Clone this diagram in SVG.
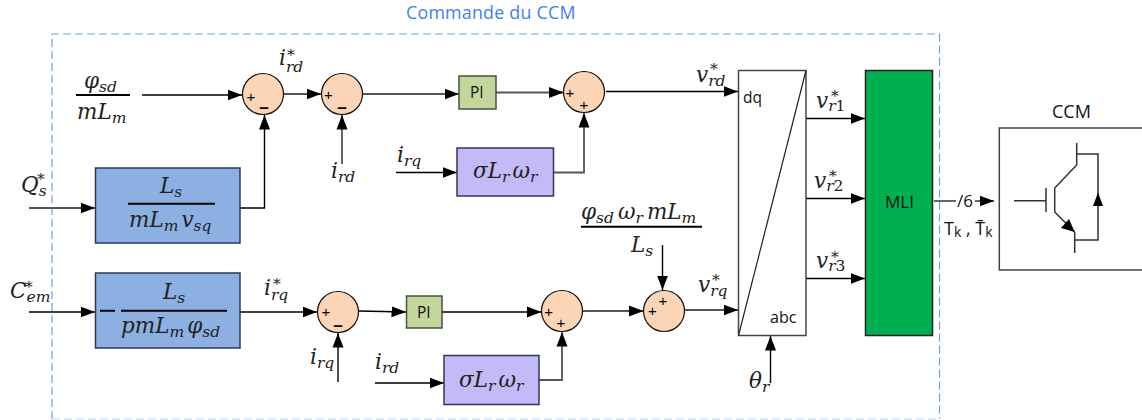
<svg xmlns="http://www.w3.org/2000/svg" width="1142" height="420" viewBox="0 0 1142 420">
<style>
text{fill:#000}
.m{font-family:"DejaVu Serif",serif;font-style:italic;font-size:21.5px;fill:#222}
.m tspan.s{font-size:15.5px}
.m tspan.u{font-style:normal}
.n{font-family:"Open Sans","Noto Sans",sans-serif;font-size:15.5px;fill:#111}
.c{fill:none;stroke:#000;stroke-width:1.4;marker-end:url(#a)}
.g{fill:none;stroke:#555;stroke-width:1.8;marker-end:url(#a)}
.p{fill:none;stroke:#333;stroke-width:1.5}
.bar{stroke:#000;stroke-width:2;fill:none}
.sum{fill:#fbd5b5;stroke:#111;stroke-width:1.2}
.sg{font-family:"Liberation Sans",sans-serif;font-size:15px;text-anchor:middle}
.mi{font-family:"Liberation Sans",sans-serif;font-size:17px;font-weight:bold;text-anchor:middle}
.blue{fill:#8db0e3;stroke:#2a3a55;stroke-width:1.5}
.vio{fill:#c5baf8;stroke:#2a3a55;stroke-width:1.5}
.pi{fill:#c3d69b;stroke:#4a4f44;stroke-width:1.5}
.wh{fill:#fff;stroke:#444;stroke-width:1.5}
</style>
<defs>
<marker id="a" markerUnits="userSpaceOnUse" markerWidth="15" markerHeight="12" refX="14.5" refY="6" orient="auto"><path d="M0 .5L14.5 6L0 11.5Z" fill="#000"/></marker>
</defs>
<rect width="1142" height="420" fill="#fff"/>
<g id="frame">
<path d="M52 419V34H939.5V419" fill="none" stroke="#6fa3e6" stroke-width="1.2" stroke-dasharray="8 4"/>
<path d="M52 419H939.5" fill="none" stroke="#bcd0ec" stroke-width="1.2" stroke-dasharray="8 4"/>
<text x="406" y="19" font-family="'Open Sans','Noto Sans',sans-serif" font-size="17.800" letter-spacing=".25" style="fill:#3f7ff0">Commande du CCM</text>
</g>
<g id="connectors">
<path class="c" d="M142 95H242"/>
<path class="g" d="M284 94H321"/>
<path class="g" d="M29 208H95"/>
<path class="c" d="M240 208H264.500V115"/>
<path class="g" d="M342 164V115"/>
<path class="g" d="M363 94H459"/>
<path class="g" d="M496 92.500H563.500"/>
<path class="c" d="M606 91.500H738"/>
<path class="c" d="M396 172.500H457"/>
<path class="g" d="M553.500 172.500H584V113"/>
<path class="c" d="M29 312H95"/>
<path class="c" d="M240 312H317"/>
<path class="c" d="M359 311L406 312"/>
<path class="c" d="M442 312H541.500"/>
<path class="c" d="M338 382V333"/>
<path class="c" d="M375 383H444"/>
<path class="g" d="M539 380H562V332"/>
<path class="g" d="M583 311H643.500"/>
<path class="c" d="M662.500 245V290"/>
<path class="g" d="M685 310H738"/>
<path class="c" d="M770.500 383V336"/>
<path class="c" d="M806 118.500H865"/>
<path class="c" d="M806 198.500H865"/>
<path class="c" d="M806 278.500H865"/>
<path class="p" d="M934 201H956"/>
<path class="g" d="M975 201H994"/>
</g>
<g id="labels">
<g id="frac-top"><text class="m" x="84" y="88">φ<tspan class="s" dy="4">sd</tspan></text>
<path class="bar" d="M76 95H130"/>
<text class="m" x="77" y="119">mL<tspan class="s" dy="4">m</tspan></text></g>
<text class="m" x="279" y="65">i<tspan class="s" dy="7">rd</tspan></text><text class="m" x="287" y="60"><tspan class="s">*</tspan></text>
<text class="m" x="21" y="192">Q<tspan class="s" dy="4">s</tspan></text><text class="m" x="37" y="184"><tspan class="s">*</tspan></text>
<text class="m" x="331" y="178">i<tspan class="s" dy="4">rd</tspan></text>
<text class="m" x="397" y="162">i<tspan class="s" dy="4">rq</tspan></text>
<text class="m" x="10" y="298">C<tspan class="s" dy="4">em</tspan></text><text class="m" x="25" y="292"><tspan class="s">*</tspan></text>
<text class="m" x="264" y="295">i<tspan class="s" dy="5">rq</tspan></text><text class="m" x="273" y="289"><tspan class="s">*</tspan></text>
<text class="m" x="310" y="364">i<tspan class="s" dy="4">rq</tspan></text>
<text class="m" x="375" y="369">i<tspan class="s" dy="4">rd</tspan></text>
<text class="m" x="696" y="82">v<tspan class="s" dy="4">rd</tspan></text><text class="m" x="710" y="74"><tspan class="s">*</tspan></text>
<text class="m" x="698" y="292">v<tspan class="s" dy="4">rq</tspan></text><text class="m" x="712" y="285"><tspan class="s">*</tspan></text>
<text class="m" x="749" y="388">θ<tspan class="s" dy="4">r</tspan></text>
<text class="m" x="816" y="108">v<tspan class="s" dy="3">r<tspan class="u">1</tspan></tspan></text><text class="m" x="831" y="101"><tspan class="s">*</tspan></text>
<text class="m" x="814" y="188">v<tspan class="s" dy="3">r<tspan class="u">2</tspan></tspan></text><text class="m" x="829" y="181"><tspan class="s">*</tspan></text>
<text class="m" x="816" y="268">v<tspan class="s" dy="3">r<tspan class="u">3</tspan></tspan></text><text class="m" x="831" y="262"><tspan class="s">*</tspan></text>
<text class="m" x="581" y="219">φ<tspan class="s" dy="4">sd</tspan><tspan dy="-4" dx="4">ω</tspan><tspan class="s" dy="4">r</tspan><tspan dy="-4" dx="4">mL</tspan><tspan class="s" dy="4">m</tspan></text>
<path class="bar" d="M581 226.700H702"/>
<text class="m" x="631" y="252">L<tspan class="s" dy="4">s</tspan></text>
<text class="n" x="957" y="207" style="font-size:17px">/6</text>
<text class="n" x="944" y="235" style="font-size:18px">T<tspan dy="2" style="font-size:14px">k</tspan><tspan dy="-2"> , T̄</tspan><tspan dy="2" style="font-size:14px">k</tspan></text>
</g>
<g id="s1"><circle class="sum" cx="263" cy="94" r="20.500"/><text class="sg" x="251" y="102">+</text><text class="mi" x="264" y="112.500">–</text></g>
<g id="s2"><circle class="sum" cx="342" cy="94" r="20.500"/><text class="sg" x="328.500" y="100">+</text><text class="mi" x="342" y="112.500">–</text></g>
<g id="s3"><circle class="sum" cx="584" cy="92" r="20.500"/><text class="sg" x="570" y="97.500">+</text><text class="sg" x="584" y="109.500">+</text></g>
<g id="s4"><circle class="sum" cx="338" cy="312" r="20.500"/><text class="sg" x="326" y="317">+</text><text class="mi" x="338" y="331">–</text></g>
<g id="s5"><circle class="sum" cx="562" cy="311" r="20.500"/><text class="sg" x="548.700" y="316.500">+</text><text class="sg" x="561" y="328">+</text></g>
<g id="s6"><circle class="sum" cx="664" cy="311" r="20.500"/><text class="sg" x="652.500" y="316">+</text><text class="sg" x="663" y="306">+</text></g>
<g id="b1"><rect class="blue" x="95.500" y="168" width="144.500" height="75"/>
<text class="m" x="160" y="193">L<tspan class="s" dy="4">s</tspan></text>
<path class="bar" d="M128 203.700H215"/>
<text class="m" x="129" y="227">mL<tspan class="s" dy="4">m</tspan><tspan dy="-4" dx="3">v</tspan><tspan class="s" dy="4">sq</tspan></text></g>
<g id="b2"><rect class="blue" x="95.500" y="273" width="144.500" height="75"/>
<path class="bar" d="M100 310.700H115M121 310.700H227"/>
<text class="m" x="163" y="299">L<tspan class="s" dy="4">s</tspan></text>
<text class="m" x="121" y="333">pmL<tspan class="s" dy="4">m</tspan><tspan dy="-4" dx="3">φ</tspan><tspan class="s" dy="4">sd</tspan></text></g>
<g id="pi1"><rect class="pi" x="459" y="76" width="37" height="33"/><text class="n" x="470" y="98">PI</text></g>
<g id="pi2"><rect class="pi" x="406.500" y="296" width="35.500" height="32"/><text class="n" x="417" y="318">PI</text></g>
<g id="g1"><rect class="vio" x="457" y="148" width="96.500" height="48"/>
<text class="m" x="473" y="178">σL<tspan class="s" dy="4">r</tspan><tspan dy="-4" dx="3">ω</tspan><tspan class="s" dy="4">r</tspan></text></g>
<g id="g2"><rect class="vio" x="444" y="355.500" width="95" height="49"/>
<text class="m" x="459" y="387">σL<tspan class="s" dy="4">r</tspan><tspan dy="-4" dx="3">ω</tspan><tspan class="s" dy="4">r</tspan></text></g>
<g id="park"><rect class="wh" x="738.500" y="70.500" width="67.500" height="265"/><path d="M738.500 335.500L806 70.500" fill="none" stroke="#222" stroke-width="1.2"/>
<text class="n" x="743" y="103">dq</text><text class="n" x="770" y="323" style="font-size:16px">abc</text></g>
<g id="mli"><rect x="865.500" y="70.500" width="67" height="265" fill="#00b050" stroke="#222" stroke-width="1.500"/><text class="n" x="885" y="208" style="font-size:17px">MLI</text></g>
<g id="ccm">
<path d="M1142 128H999.300V270H1142" fill="#fff" stroke="#444" stroke-width="1.5"/>
<text class="n" x="1052" y="118" style="font-size:18px">CCM</text>
<path class="p" d="M1014 200.700H1046M1046 188V212M1054.700 188V212M1054.700 188L1076.700 165M1076.700 143V165M1076.700 154H1098V240H1074.700M1054.700 212L1074.700 232M1074.700 232V253"/>
<path d="M1074.700 232L1061 228L1069 219Z" fill="#000"/>
<path d="M1098 192.700L1103 206H1093Z" fill="#000"/>
</g>
</svg>
